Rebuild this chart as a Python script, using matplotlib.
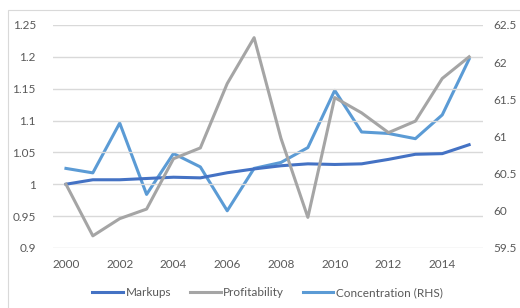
import matplotlib
matplotlib.use("Agg")
import matplotlib.pyplot as plt
from matplotlib.patches import Rectangle

years = list(range(2000, 2016))
markups = [1.000, 1.007, 1.007, 1.009, 1.011, 1.010, 1.018, 1.024, 1.029, 1.032,
           1.031, 1.032, 1.039, 1.047, 1.048, 1.062]
profitability = [1.000, 0.919, 0.946, 0.961, 1.040, 1.057, 1.158, 1.230, 1.072, 0.948,
                 1.136, 1.112, 1.081, 1.099, 1.166, 1.200]
concentration = [60.57, 60.51, 61.18, 60.22, 60.77, 60.59, 60.00, 60.57, 60.65, 60.85,
                 61.62, 61.06, 61.04, 60.97, 61.29, 62.04]

left_ticks = [0.9, 0.95, 1, 1.05, 1.1, 1.15, 1.2, 1.25]
right_ticks = [59.5, 60, 60.5, 61, 61.5, 62, 62.5]
year_ticks = list(range(2000, 2015, 2))

plt.rcParams['font.family'] = ['Lato', 'DejaVu Sans']
txt = '#595959'

fig = plt.figure(figsize=(5.2, 3.08), dpi=100)
fig.patches.append(Rectangle((8 / 520, -0.1), 1.2, 1 - 10 / 308 + 0.1,
                             transform=fig.transFigure, fill=False,
                             edgecolor='#d9d9d9', linewidth=0.8))
ax = fig.add_axes([0.101, 0.195, 0.827, 0.724])
ax2 = ax.twinx()

l1, = ax.plot(years, markups, color='#4472C4', lw=2.2, label='Markups')
l2, = ax.plot(years, profitability, color='#A5A5A5', lw=2.2, label='Profitability')
l3, = ax2.plot(years, concentration, color='#5B9BD5', lw=2.2, label='Concentration (RHS)')
ax.set_zorder(ax2.get_zorder() + 1)
ax.patch.set_visible(False)

ax.set_xlim(1999.5, 2015.5)
ax.set_ylim(0.9, 1.25)
ax2.set_ylim(59.5, 62.5)
ax.set_yticks(left_ticks)
ax.set_yticklabels(['0.9', '0.95', '1', '1.05', '1.1', '1.15', '1.2', '1.25'])
ax2.set_yticks(right_ticks)
ax2.set_yticklabels(['59.5', '60', '60.5', '61', '61.5', '62', '62.5'])
ax.set_xticks(year_ticks)
ax.grid(axis='y', color='#d9d9d9', lw=1)
ax.set_axisbelow(True)

for a in (ax, ax2):
    for s in a.spines.values():
        s.set_visible(False)
ax.tick_params(axis='y', length=0, pad=12, labelsize=8.5, labelcolor=txt)
ax2.tick_params(axis='y', length=0, pad=8, labelsize=8.5, labelcolor=txt)
ax.tick_params(axis='x', length=0, pad=8, labelsize=8.5, labelcolor=txt)

ax.legend(handles=[l1, l2, l3], loc='center', bbox_to_anchor=(0.5, -0.20),
          ncol=3, frameon=False, fontsize=8.5, labelcolor=txt,
          handlelength=2.6, handletextpad=0.2, columnspacing=1.6)

fig.savefig('out.png', dpi=100)
